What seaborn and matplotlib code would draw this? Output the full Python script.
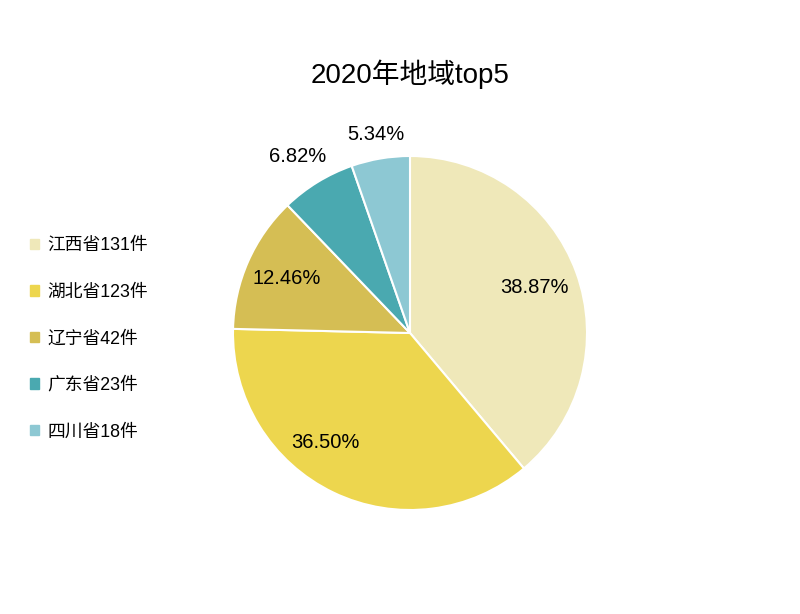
import numpy as np
import matplotlib
matplotlib.use("Agg")
import matplotlib.pyplot as plt
import matplotlib.patches as mpatches
import seaborn as sns

provinces = ['江西省', '湖北省', '辽宁省', '广东省', '四川省']
counts = [131, 123, 42, 23, 18]
colors = ['#EFE8B9', '#EDD64E', '#D5BE54', '#4AA9B0', '#8DC8D3']

sns.set_theme(style="white")
plt.rcParams['font.family'] = ['Liberation Sans', 'Noto Sans CJK SC', 'DejaVu Sans']
plt.rcParams['text.color'] = 'black'

fig = plt.figure(figsize=(8, 6.14), dpi=100)
ax = fig.add_axes([233 / 800, 104 / 614, 354 / 800, 354 / 614])

palette = sns.color_palette(colors)
wedges, _ = ax.pie(counts, colors=palette, startangle=90, counterclock=False,
                   wedgeprops=dict(edgecolor='white', linewidth=1.5))
ax.set_xlim(-1, 1)
ax.set_ylim(-1, 1)
ax.set_aspect('equal')

# percent labels: big slices inside, small ones outside
total = sum(counts)
dist = [0.75, 0.78, 0.76, 1.18, 1.14]
shift = [0, -12, 0, 1, 0]
for w, c, d, s in zip(wedges, counts, dist, shift):
    ang = np.deg2rad((w.theta1 + w.theta2) / 2 + s)
    ax.text(d * np.cos(ang), d * np.sin(ang), f"{c / total * 100:.2f}%",
            ha='center', va='center', fontsize=14.5, color='black')

handles = [mpatches.Patch(color=col) for col in palette]
labels = [f"{p}{c}件" for p, c in zip(provinces, counts)]
fig.legend(handles, labels, loc='upper left', bbox_to_anchor=(0.028, 0.625),
           frameon=False, fontsize=12.8, labelspacing=1.66, handlelength=0.55,
           handleheight=0.55, handletextpad=0.45, borderaxespad=0)

fig.suptitle("2020年地域top5", x=0.5125, y=0.903, fontsize=20, color='black')

plt.savefig("out.png", dpi=100)
plt.close()
